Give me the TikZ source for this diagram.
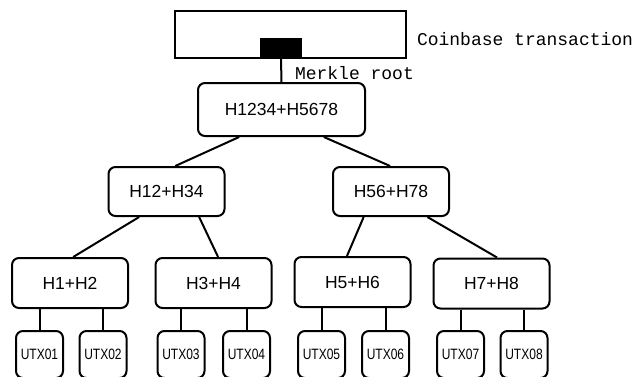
\documentclass[tikz,border=0pt]{standalone}
\usepackage{fontspec}
\setmainfont{Liberation Sans}
\newfontfamily\monofont{Liberation Mono}
\newcommand{\utxtext}[1]{\scalebox{0.8}[1]{#1}}
\begin{document}
\begin{tikzpicture}[x=1pt,y=-1pt,line width=2pt,
		hbox/.style={draw,rounded corners=7pt,minimum width=116pt,minimum height=50pt,font=\fontsize{17.5}{20}\selectfont},
		utx/.style={draw,rounded corners=7pt,minimum width=47pt,minimum height=47pt,inner sep=0pt,font=\fontsize{15}{16}\selectfont},
		lbl/.style={anchor=west,inner sep=0pt,font=\monofont\fontsize{18}{20}\selectfont}]
		\useasboundingbox (0,0) rectangle (633,376);

		\node[draw,minimum width=231pt,minimum height=47pt] (cb) at (290.5,34.5) {};
		\node[fill,minimum width=42pt,minimum height=20pt,inner sep=0pt] (mr) at (281,48) {};
		\node[lbl] (cbtext) at (416,39) {Coinbase transaction};
		\node[lbl] (mrtext) at (294,73.5) {Merkle root};

		\node[hbox,minimum width=167pt,minimum height=53pt] (root) at (281.5,109.5) {H1234+H5678};
		\node[hbox,minimum height=49pt] (h12) at (166.5,191.5) {H12+H34};
		\node[hbox,minimum height=49pt] (h56) at (391,191.5) {H56+H78};
		\node[hbox] (h1) at (70,283) {H1+H2};
		\node[hbox] (h3) at (213.5,283) {H3+H4};
		\node[hbox] (h5) at (352.5,282) {H5+H6};
		\node[hbox] (h7) at (491.5,283.5) {H7+H8};

		\node[utx] (u1) at (39.5,354.5) {\utxtext{UTX01}};
		\node[utx] (u2) at (103,354.5) {\utxtext{UTX02}};
		\node[utx] (u3) at (181,354.5) {\utxtext{UTX03}};
		\node[utx] (u4) at (246.5,354.5) {\utxtext{UTX04}};
		\node[utx] (u5) at (321.5,354.5) {\utxtext{UTX05}};
		\node[utx] (u6) at (385.5,354.5) {\utxtext{UTX06}};
		\node[utx] (u7) at (460.5,354.5) {\utxtext{UTX07}};
		\node[utx] (u8) at (524,354.5) {\utxtext{UTX08}};

		\draw (mr.south) -- (root.north);
		\draw (root.213) -- (h12.71);
		\draw (root.327) -- (h56.92);
		\draw (h12.223) -- (h1.83);
		\draw (h12.322) -- (h3.80);
		\draw (h56.223) -- (h5.102);
		\draw (h56.325) -- (h7.78);

		\draw (h1.south -| u1.north) -- (u1.north);
		\draw (h1.south -| u2.north) -- (u2.north);
		\draw (h3.south -| u3.north) -- (u3.north);
		\draw (h3.south -| u4.north) -- (u4.north);
		\draw (h5.south -| u5.north) -- (u5.north);
		\draw (h5.south -| u6.north) -- (u6.north);
		\draw (h7.south -| u7.north) -- (u7.north);
		\draw (h7.south -| u8.north) -- (u8.north);
	\end{tikzpicture}
\end{document}
